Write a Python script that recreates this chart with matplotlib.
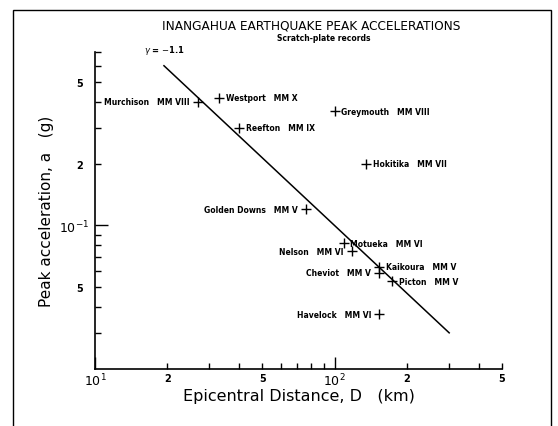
import matplotlib.pyplot as plt
from matplotlib.patches import Rectangle
from matplotlib.ticker import FixedLocator, FuncFormatter

# station records
stations = ['Murchison', 'Westport', 'Reefton', 'Greymouth', 'Hokitika',
            'Golden Downs', 'Motueka', 'Nelson', 'Kaikoura', 'Cheviot',
            'Picton', 'Havelock']
intensity = ['MM VIII', 'MM X', 'MM IX', 'MM VIII', 'MM VII',
             'MM V', 'MM VI', 'MM VI', 'MM V', 'MM V', 'MM V', 'MM VI']
distance_km = [27, 33, 40, 100, 135, 76, 109, 118, 154, 153, 174, 154]
peak_acc_g = [0.40, 0.42, 0.30, 0.36, 0.20, 0.12, 0.082, 0.075, 0.063,
              0.059, 0.0535, 0.037]
label_side = ['left', 'right', 'right', 'right', 'right', 'left', 'right',
              'left', 'right', 'left', 'right', 'left']

# fitted attenuation line, gamma = -1.1
fit_D = [19.4, 301]
fit_a = [0.60, 0.030]

fig = plt.figure(figsize=(5.58, 4.27), dpi=100)
ax = fig.add_axes([0.1703, 0.1335, 0.7293, 0.7424])

ax.plot(fit_D, fit_a, color='black', lw=1.1)
ax.plot(distance_km, peak_acc_g, '+', color='black', ms=7.5, mew=1.0)

for name, mm, d, a, side in zip(stations, intensity, distance_km,
                                peak_acc_g, label_side):
    txt = name + '   ' + mm
    if side == 'right':
        ax.annotate(txt, (d, a), xytext=(5, 0), textcoords='offset points',
                    ha='left', va='center', fontsize=5.5, fontweight='bold')
    else:
        ax.annotate(txt, (d, a), xytext=(-6, 0), textcoords='offset points',
                    ha='right', va='center', fontsize=5.5, fontweight='bold')

ax.text(16, 0.72, r'$\gamma$ = $-$1.1', fontsize=6, fontweight='bold',
        va='center', ha='left')

ax.set_xscale('log')
ax.set_yscale('log')
ax.set_xlim(10, 500)
ax.set_ylim(0.02, 0.7)

for s in ['top', 'right']:
    ax.spines[s].set_visible(False)
ax.spines['left'].set_linewidth(1.2)
ax.spines['bottom'].set_linewidth(1.2)

# x ticks
ax.xaxis.set_major_locator(FixedLocator([10, 100]))
ax.xaxis.set_minor_locator(FixedLocator([20, 30, 40, 50, 60, 70, 80, 90,
                                         200, 300, 400, 500]))
ax.xaxis.set_major_formatter(FuncFormatter(
    lambda v, p: {10: r'$10^1$', 100: r'$10^2$'}.get(round(v), '')))
ax.xaxis.set_minor_formatter(FuncFormatter(
    lambda v, p: {20: '2', 50: '5', 200: '2', 500: '5'}.get(round(v), '')))

# y ticks
ax.yaxis.set_major_locator(FixedLocator([0.1]))
ax.yaxis.set_minor_locator(FixedLocator([0.03, 0.04, 0.05, 0.06, 0.07,
                                         0.08, 0.09, 0.2, 0.3, 0.4, 0.5,
                                         0.6, 0.7]))
ax.yaxis.set_major_formatter(FuncFormatter(lambda v, p: r'$10^{-1}$'))
ax.yaxis.set_minor_formatter(FuncFormatter(
    lambda v, p: {5: '5', 20: '2', 50: '5'}.get(round(v * 100), '')))

ax.tick_params(which='major', direction='in', length=9, width=1.0,
               labelsize=9, pad=2)
ax.tick_params(which='minor', direction='in', length=4, width=1.0,
               labelsize=7, pad=3)
ax.tick_params(axis='y', which='minor', pad=9)
ax.tick_params(axis='y', which='major', pad=4)
for lab in ax.get_xticklabels(minor=True) + ax.get_yticklabels(minor=True):
    lab.set_fontweight('bold')

ax.set_xlabel('Epicentral Distance, D   (km)', fontsize=11.5, labelpad=0)
ax.set_ylabel('Peak acceleration, a   (g)', fontsize=11, labelpad=4)

fig.text(0.557, 0.939, 'INANGAHUA EARTHQUAKE PEAK ACCELERATIONS',
         ha='center', va='center', fontsize=8.7)
fig.text(0.58, 0.911, 'Scratch-plate records', ha='center', va='center',
         fontsize=5.5, fontweight='bold')

# frame round the whole figure
fig.patches.append(Rectangle((13 / 558, -0.05), 538 / 558, 1.05 - 11 / 427,
                             transform=fig.transFigure, fill=False,
                             edgecolor='black', lw=1.0))

fig.savefig('out.png', dpi=100)
